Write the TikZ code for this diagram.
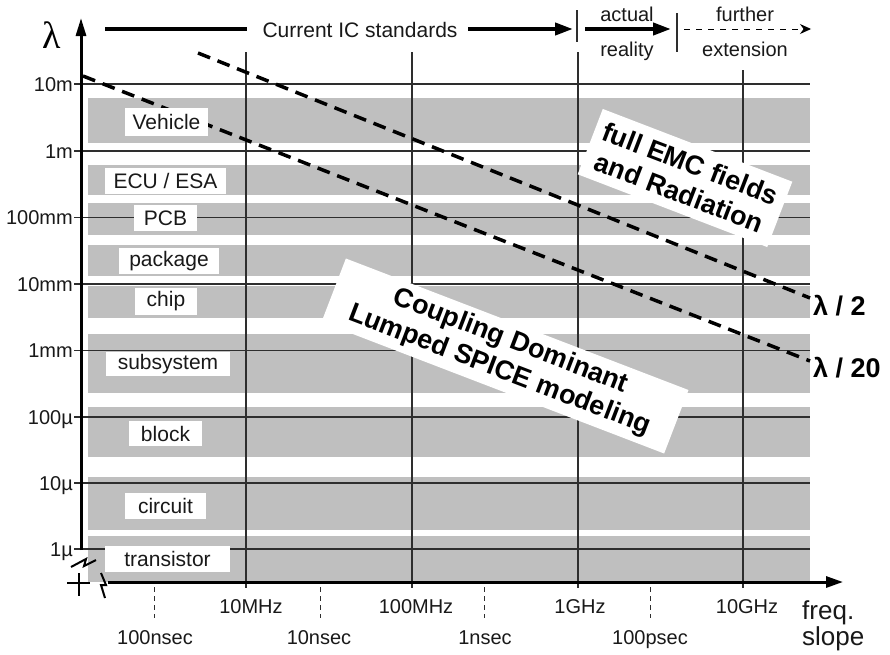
\documentclass[tikz,border=0pt]{standalone}
\usepackage{fontspec}
\setmainfont{Liberation Sans}
\newfontfamily\seriflam{Liberation Serif}
\usetikzlibrary{arrows.meta}
\definecolor{bandgray}{gray}{0.75}
\definecolor{gridc}{gray}{0.18}
\definecolor{inkc}{gray}{0.1}
\begin{document}
\begin{tikzpicture}[x=1pt,y=-1pt,
  lab/.style={font=\fontsize{20}{24}\selectfont, inner sep=0pt, text=inkc},
  hlab/.style={font=\fontsize{21}{24}\selectfont, inner sep=0pt, text=inkc},
  biglab/.style={font=\fontsize{26}{30}\selectfont, inner sep=0pt, text=inkc},
  boxlab/.style={fill=white, inner sep=0pt, font=\fontsize{21}{24}\selectfont, text=inkc},
  gridl/.style={draw=gridc, line width=1.2pt},
  halfdec/.style={draw=gridc, line width=1pt, dash pattern=on 5pt off 4pt},
  lamline/.style={draw=black, line width=3.5pt, dash pattern=on 13pt off 8pt},
  regbox/.style={fill=white, rotate=-21, align=center, inner sep=0pt,
    font=\fontsize{27}{31}\selectfont\bfseries},
  lamlab/.style={font=\fontsize{27}{30}\selectfont\bfseries, inner sep=0pt},
  axisl/.style={draw=black, line width=3pt},
  hdr/.style={draw=black, line width=4pt},
]
\fill[white] (0,0) rectangle (890,654);
\useasboundingbox (0,0) rectangle (890,654);

% grey bands
\foreach \a/\b in {98/143,165/195,203/235,245/276,286/318,334/393,407/457,477/530,536/582}
  \fill[bandgray] (88,\a) rectangle (810,\b);

% horizontal grid lines
\foreach \y in {84,151,217.5,284,350.5,417,483,549}
  \draw[gridl] (74,\y) -- (810,\y);

% vertical grid lines
\foreach \x/\t in {246/52,412/52,578/52,743/70}
  \draw[gridl] (\x,\t) -- (\x,588);

% half-decade dashed ticks
\foreach \x in {154,320,484,650}
  \draw[halfdec] (\x,587) -- (\x,618);

% y-axis labels
\node[lab, anchor=base east] (y10m) at (73,91) {10m};
\node[lab, anchor=base east] (y1m) at (73,158) {1m};
\node[lab, anchor=base east] (y100mm) at (73,224.5) {100mm};
\node[lab, anchor=base east] (y10mm) at (73,291) {10mm};
\node[lab, anchor=base east] (y1mm) at (73,357.5) {1mm};
\node[lab, anchor=base east] (y100u) at (73,424) {100µ};
\node[lab, anchor=base east] (y10u) at (73,490) {10µ};
\node[lab, anchor=base east] (y1u) at (73,556) {1µ};

% lambda lines
\coordinate (a1) at (198,53);
\coordinate (a2) at (810,298);
\coordinate (b1) at (83,76);
\coordinate (b2) at (810,361);
\draw[lamline] (a1) -- (a2);
\draw[lamline] (b1) -- (b2);
\node[lamlab, anchor=base west] (lh) at (813,315) {λ / 2};
\node[lamlab, anchor=base west] (lt) at (813,377) {λ / 20};

% white level labels
\node[boxlab, minimum width=83pt, minimum height=28pt] (veh) at (166.5,122) {Vehicle};
\node[boxlab, minimum width=121pt, minimum height=26pt] (ecu) at (165.5,181) {ECU / ESA};
\node[boxlab, minimum width=63pt, minimum height=26pt] (pcb) at (165.5,218) {PCB};
\node[boxlab, minimum width=100pt, minimum height=26pt] (pkg) at (169,261) {package};
\node[boxlab, minimum width=62pt, minimum height=27pt] (chip) at (166,301.5) {chip};
\node[boxlab, minimum width=124pt, minimum height=24pt] (subs) at (168,364) {subsystem};
\node[boxlab, minimum width=73pt, minimum height=25pt] (blk) at (165.5,433.5) {block};
\node[boxlab, minimum width=81pt, minimum height=26pt] (circ) at (165.5,506) {circuit};
\node[boxlab, minimum width=125pt, minimum height=26pt] (trans) at (167.5,559) {transistor};

% rotated region labels
\node[regbox, minimum width=203pt, minimum height=70pt] (emc) at (685,178)
  {full EMC fields\\and Radiation};
\node[regbox, minimum width=367pt, minimum height=68pt] (cpl) at (505,356)
  {Coupling Dominant\\Lumped SPICE modeling};

% axes
\coordinate (yb) at (81,550);
\coordinate (yt) at (81,18);
\draw[axisl, -{Triangle[length=18pt,width=10pt]}] (yb) -- (yt);
\coordinate (xb) at (108,582);
\coordinate (xt) at (843,582);
\draw[axisl, -{Triangle[length=17pt,width=11pt]}] (xb) -- (xt);

% axis break marks
\draw[line width=2.6pt] (67,583) -- (90,583) (79,573) -- (79,596);
\draw[line width=2pt, line join=miter] (71,567) -- (86,559) -- (84,566) -- (96,560);
\draw[line width=2pt, line join=miter] (101,573) -- (106,585) -- (101,585) -- (105,598);

% big lambda
\node[font=\seriflam\fontsize{38}{40}\selectfont, inner sep=0pt, anchor=base] (lam) at (52,48) {λ};

% header
\coordinate (h1) at (105,29);
\coordinate (h2) at (247,29);
\draw[hdr] (h1) -- (h2);
\node[hlab, anchor=base] (cur) at (360,37.5) {Current IC standards};
\coordinate (h3) at (468,29);
\coordinate (h4) at (573,29);
\draw[hdr, -{Triangle[length=18pt,width=12pt]}] (h3) -- (h4);
\draw[draw=gridc, line width=1.5pt] (577,10) -- (577,42);
\coordinate (h5) at (585,29);
\coordinate (h6) at (671,29);
\draw[hdr, -{Triangle[length=18pt,width=12pt]}] (h5) -- (h6);
\draw[draw=gridc, line width=1.5pt] (677,13) -- (677,52);
\coordinate (h7) at (684,29);
\coordinate (h8) at (811,29);
\draw[draw=black, line width=1pt, dash pattern=on 6pt off 6pt, -{Stealth[length=11pt,width=10pt]}] (h7) -- (h8);
\node[lab, anchor=base] (act) at (627,21) {actual};
\node[lab, anchor=base] (rea) at (627,56) {reality};
\node[lab, anchor=base] (fur) at (745,21) {further};
\node[lab, anchor=base] (ext) at (745,56) {extension};

% bottom labels
\node[lab, anchor=base] (f1) at (251,613) {10MHz};
\node[lab, anchor=base] (f2) at (416,613) {100MHz};
\node[lab, anchor=base] (f3) at (580,613) {1GHz};
\node[lab, anchor=base] (f4) at (747,613) {10GHz};
\node[lab, anchor=base] (s1) at (155,644) {100nsec};
\node[lab, anchor=base] (s2) at (319,644) {10nsec};
\node[lab, anchor=base] (s3) at (485,644) {1nsec};
\node[lab, anchor=base] (s4) at (650,644) {100psec};
\node[biglab, anchor=base west] (freq) at (802,619) {freq.};
\node[biglab, anchor=base west] (slope) at (802,645) {slope};
\end{tikzpicture}
\end{document}
